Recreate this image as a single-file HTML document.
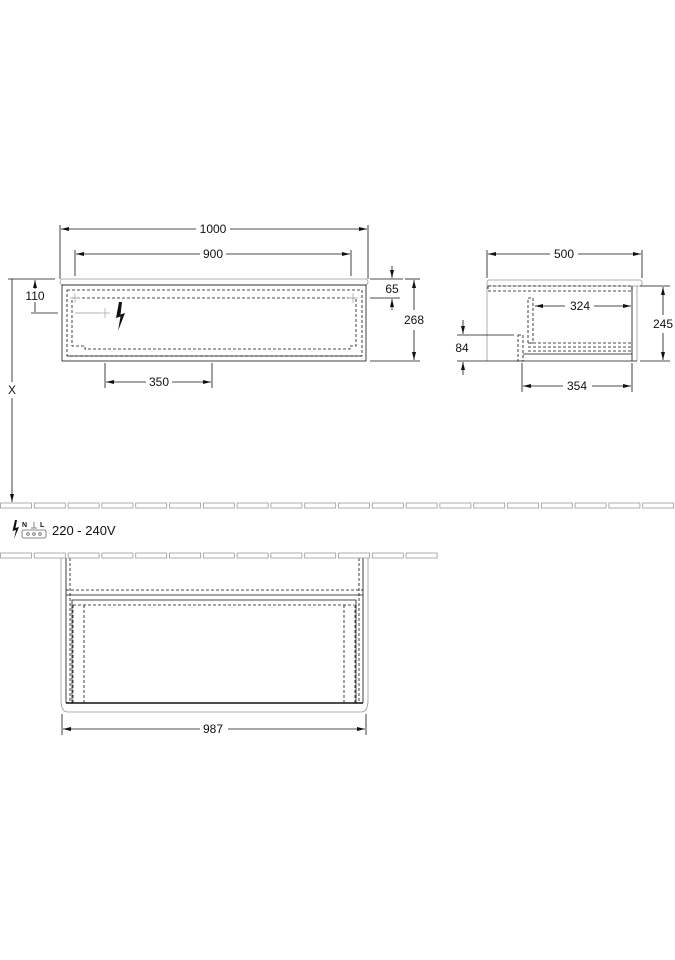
<!DOCTYPE html>
<html><head><meta charset="utf-8"><style>
html,body{margin:0;padding:0;background:#fff;}
svg{display:block;}
text{font-family:"Liberation Sans",Arial,sans-serif;font-size:12px;fill:#111;}
</style></head><body>
<svg id="s" width="675" height="960" viewBox="0 0 675 960" xmlns="http://www.w3.org/2000/svg">
<defs>
<marker id="a" markerWidth="8" markerHeight="6" refX="8" refY="3" orient="auto-start-reverse" markerUnits="userSpaceOnUse"><path d="M0,1 L8,3 L0,5 z" fill="#111"/></marker>
</defs>
<g stroke="#111" stroke-width="0.8" fill="none">
<line x1="60" y1="225" x2="60" y2="279"/><line x1="368" y1="225" x2="368" y2="279"/>
<line x1="61" y1="229" x2="196" y2="229" marker-start="url(#a)"/><line x1="230" y1="229" x2="367" y2="229" marker-end="url(#a)"/>
<line x1="75" y1="250" x2="75" y2="276"/><line x1="351" y1="250" x2="351" y2="276"/>
<line x1="76" y1="254" x2="200" y2="254" marker-start="url(#a)"/><line x1="226" y1="254" x2="350" y2="254" marker-end="url(#a)"/>
<rect x="60" y="279" width="308" height="6" rx="3" stroke="#999"/>
<rect x="62" y="285" width="304" height="76"/>
<rect x="67" y="290" width="295" height="66" stroke-dasharray="3,2"/>
<path d="M72,298 H356 V346 H350 V349 H85 V346 H72 Z" stroke-dasharray="3,2"/>
<line x1="67" y1="356" x2="362" y2="356"/>
<line x1="75" y1="313" x2="100" y2="313" stroke="#999"/>
<line x1="8" y1="279" x2="55" y2="279"/><line x1="31" y1="313" x2="58" y2="313"/>
<line x1="35" y1="289" x2="35" y2="280" marker-end="url(#a)"/><line x1="35" y1="302" x2="35" y2="312"/>
<line x1="370" y1="279" x2="403" y2="279"/><line x1="370" y1="298" x2="400" y2="298"/>
<line x1="392" y1="266" x2="392" y2="278" marker-end="url(#a)"/><line x1="392" y1="310" x2="392" y2="299" marker-end="url(#a)"/>
<line x1="405" y1="279" x2="420" y2="279"/><line x1="370" y1="361" x2="420" y2="361"/>
<line x1="414" y1="310" x2="414" y2="280" marker-end="url(#a)"/><line x1="414" y1="330" x2="414" y2="360" marker-end="url(#a)"/>
<line x1="105" y1="363" x2="105" y2="388"/><line x1="212" y1="363" x2="212" y2="388"/>
<line x1="106" y1="382" x2="146" y2="382" marker-start="url(#a)"/><line x1="172" y1="382" x2="211" y2="382" marker-end="url(#a)"/>
<line x1="12" y1="279" x2="12" y2="382"/><line x1="12" y1="398" x2="12" y2="502" marker-end="url(#a)"/>
<line x1="487" y1="250" x2="487" y2="278"/><line x1="642" y1="250" x2="642" y2="278"/>
<line x1="488" y1="254" x2="550" y2="254" marker-start="url(#a)"/><line x1="578" y1="254" x2="641" y2="254" marker-end="url(#a)"/>
<rect x="487" y="280" width="155" height="6" rx="2" stroke="#999"/>
<line x1="487" y1="286" x2="487" y2="361" stroke="#999"/>
<rect x="488" y="286" width="144" height="5" stroke-dasharray="3,2"/>
<line x1="632" y1="286" x2="632" y2="361"/><line x1="637" y1="286" x2="637" y2="361" stroke="#999"/>
<line x1="487" y1="361" x2="637" y2="361"/>
<rect x="528" y="298" width="5" height="45" stroke-dasharray="3,2"/>
<line x1="528" y1="343" x2="632" y2="343" stroke-dasharray="3,2"/><line x1="528" y1="347" x2="632" y2="347" stroke-dasharray="3,2"/><line x1="528" y1="351" x2="632" y2="351" stroke-dasharray="3,2"/>
<rect x="518" y="335" width="5" height="26" stroke-dasharray="3,2"/>
<line x1="523" y1="354" x2="632" y2="354"/>
<line x1="535" y1="306" x2="565" y2="306" marker-start="url(#a)"/><line x1="594" y1="306" x2="631" y2="306" marker-end="url(#a)"/>
<line x1="640" y1="286" x2="670" y2="286"/><line x1="640" y1="361" x2="670" y2="361"/>
<line x1="663" y1="315" x2="663" y2="287" marker-end="url(#a)"/><line x1="663" y1="333" x2="663" y2="360" marker-end="url(#a)"/>
<line x1="457" y1="335" x2="514" y2="335"/><line x1="457" y1="361" x2="487" y2="361"/>
<line x1="463" y1="320" x2="463" y2="334" marker-end="url(#a)"/><line x1="463" y1="375" x2="463" y2="362" marker-end="url(#a)"/>
<line x1="522" y1="363" x2="522" y2="392"/><line x1="632" y1="363" x2="632" y2="392"/>
<line x1="523" y1="386" x2="563" y2="386" marker-start="url(#a)"/><line x1="592" y1="386" x2="631" y2="386" marker-end="url(#a)"/>
<path d="M61,558 V700 Q61,712 68,712 H361 Q368,712 368,700 V558" stroke="#999"/>
<line x1="66" y1="558" x2="66" y2="703"/><line x1="363" y1="558" x2="363" y2="703"/>
<line x1="70" y1="558" x2="70" y2="703" stroke-dasharray="3,2"/><line x1="359" y1="558" x2="359" y2="703" stroke-dasharray="3,2"/>
<line x1="66" y1="590" x2="363" y2="590" stroke-dasharray="3,2"/>
<line x1="66" y1="595" x2="363" y2="595"/>
<path d="M72,703 V600 H356 V703"/>
<path d="M73,605 H354" stroke-dasharray="3,2"/>
<line x1="84" y1="605" x2="84" y2="703" stroke-dasharray="3,2"/><line x1="344" y1="605" x2="344" y2="703" stroke-dasharray="3,2"/>
<line x1="73" y1="605" x2="73" y2="703" stroke-dasharray="3,2"/><line x1="355" y1="605" x2="355" y2="703" stroke-dasharray="3,2"/>
<line x1="66" y1="703" x2="363" y2="703" stroke-width="1.5"/>
<line x1="62" y1="714" x2="62" y2="735"/><line x1="366" y1="714" x2="366" y2="735"/>
<line x1="63" y1="729" x2="200" y2="729" marker-start="url(#a)"/><line x1="228" y1="729" x2="365" y2="729" marker-end="url(#a)"/>
<rect x="22" y="530" width="24" height="8" rx="2" stroke="#666"/>
<circle cx="28" cy="534" r="1.3" stroke="#666"/><circle cx="34" cy="534" r="1.3" stroke="#666"/><circle cx="40" cy="534" r="1.3" stroke="#666"/>
<line x1="34" y1="522" x2="34" y2="528" stroke="#666"/><line x1="31" y1="528" x2="37" y2="528" stroke="#666"/>
<g stroke="#aaa"><line x1="70" y1="298" x2="80" y2="298"/><line x1="75" y1="293" x2="75" y2="303"/>
<line x1="348" y1="298" x2="358" y2="298"/><line x1="353" y1="293" x2="353" y2="303"/>
<line x1="100" y1="313" x2="110" y2="313"/><line x1="105" y1="308" x2="105" y2="318"/></g>
</g>
<g id="tiles" fill="none" stroke="#999" stroke-width="0.8"></g>
<path d="M119,302 L116,318 L120.5,316.5 L118,331 L125,313 L120.5,314.5 L122,302 Z" fill="#111"/>
<path d="M15,520 L12.5,531 L16,530 L14,539 L19,527 L15.5,528 L17,520 Z" fill="#111"/>
<text x="213" y="233" text-anchor="middle">1000</text>
<text x="213" y="258" text-anchor="middle">900</text>
<text x="35" y="300" text-anchor="middle">110</text>
<text x="392" y="293" text-anchor="middle">65</text>
<text x="414" y="324" text-anchor="middle">268</text>
<text x="159" y="386" text-anchor="middle">350</text>
<text x="12" y="394" text-anchor="middle">X</text>
<text x="564" y="258" text-anchor="middle">500</text>
<text x="580" y="310" text-anchor="middle">324</text>
<text x="663" y="328" text-anchor="middle">245</text>
<text x="462" y="352" text-anchor="middle">84</text>
<text x="577" y="390" text-anchor="middle">354</text>
<text x="213" y="733" text-anchor="middle">987</text>
<text x="22" y="527" style="font-size:7px;font-weight:bold">N</text>
<text x="40" y="527" style="font-size:7px;font-weight:bold">L</text>
<text x="52" y="535" style="font-size:13px">220 - 240V</text>
</svg>
<script>
var g=document.getElementById('tiles'),ns='http://www.w3.org/2000/svg',p=33.8;
function row(y,maxX){for(var i=0;;i++){var x=i*p;if(x>maxX)break;var r=document.createElementNS(ns,'rect');r.setAttribute('x',x+0.5);r.setAttribute('y',y);r.setAttribute('width',Math.min(31,675-x));r.setAttribute('height',5);g.appendChild(r);}}
row(503,672);row(553,420);
</script>
</body></html>
